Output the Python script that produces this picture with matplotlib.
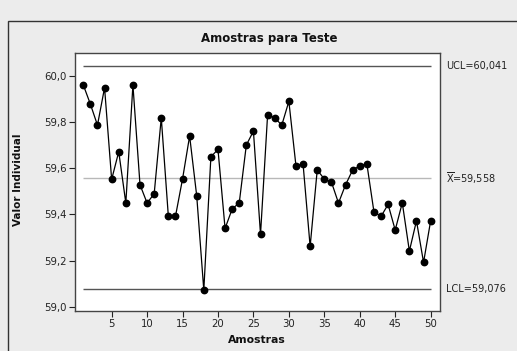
import matplotlib
matplotlib.use("Agg")
import matplotlib.pyplot as plt
from matplotlib.patches import Rectangle

samples = list(range(1, 51))
values = [59.960, 59.877, 59.786, 59.948, 59.551, 59.671, 59.449, 59.960, 59.528, 59.449,
          59.489, 59.818, 59.391, 59.391, 59.553, 59.739, 59.480, 59.072, 59.649, 59.681,
          59.339, 59.423, 59.450, 59.700, 59.760, 59.313, 59.831, 59.818, 59.786, 59.889,
          59.610, 59.619, 59.261, 59.592, 59.553, 59.540, 59.449, 59.528, 59.592, 59.610,
          59.619, 59.411, 59.391, 59.443, 59.332, 59.450, 59.241, 59.372, 59.192, 59.372]
ucl = 60.041
center = 59.558
lcl = 59.076
ucl_label = "UCL=60,041"
center_label = r"$\overline{\mathrm{X}}$=59,558"
lcl_label = "LCL=59,076"
xticks = [5, 10, 15, 20, 25, 30, 35, 40, 45, 50]
yticks = [59.0, 59.2, 59.4, 59.6, 59.8, 60.0]
ytick_labels = ["59,0", "59,2", "59,4", "59,6", "59,8", "60,0"]

plt.rcParams['font.family'] = ['DejaVu Sans']
plt.rcParams['mathtext.fontset'] = 'dejavusans'

W, H = 517, 351
fig = plt.figure(figsize=(W / 100, H / 100), dpi=100)
fig.patch.set_facecolor('#ececec')

# outer frame
fig.add_artist(Rectangle((8 / W, -0.1), 1.2, (H - 20.5) / H + 0.1, transform=fig.transFigure,
                         fill=False, edgecolor='#333333', linewidth=1.0))

ax = fig.add_axes([75 / W, (H - 310.7) / H, (440 - 75) / W, (310.7 - 53.3) / H])
ax.set_facecolor('white')

ax.plot(samples, values, color='black', linewidth=0.9, marker='o', markersize=4.6, zorder=3)
ax.hlines([ucl, lcl], samples[0], samples[-1], colors='#555555', linewidth=1.0, zorder=2)
ax.hlines([center], samples[0], samples[-1], colors='#b8b8b8', linewidth=1.0, zorder=2)

ax.set_xlim(-0.17, 51.32)
ax.set_ylim(58.983, 60.097)
ax.set_xticks(xticks)
ax.set_xticklabels([str(t) for t in xticks])
ax.set_yticks(yticks)
ax.set_yticklabels(ytick_labels)
ax.tick_params(axis='both', direction='out', length=4, width=0.8, labelsize=7.3,
               colors='#222222', pad=2)
for s in ax.spines.values():
    s.set_color('#444444')
    s.set_linewidth(1.0)

tr = ax.get_yaxis_transform()
for y, lab in [(ucl, ucl_label), (center, center_label), (lcl, lcl_label)]:
    ax.text(1.017, y, lab, transform=tr, fontsize=7.0, va='center', ha='left', color='#222222')

fig.text(269 / W, 1 - 38.5 / H, "Amostras para Teste", ha='center', va='center',
         fontsize=8.5, fontweight='bold', color='#111111')
fig.text(257 / W, 1 - 340 / H, "Amostras", ha='center', va='center',
         fontsize=7.8, fontweight='bold', color='#111111')
fig.text(18 / W, 1 - 180 / H, "Valor Individual", ha='center', va='center', rotation=90,
         fontsize=7.5, fontweight='bold', color='#111111')

fig.savefig("out.png", dpi=100, facecolor=fig.get_facecolor())
